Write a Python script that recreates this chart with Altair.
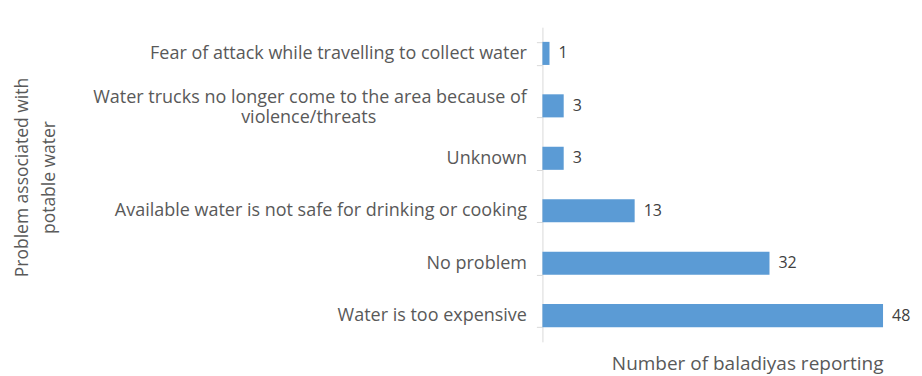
import altair as alt
import pandas as pd

categories = [
    "Fear of attack while travelling to collect water",
    "Water trucks no longer come to the area because of violence/threats",
    "Unknown",
    "Available water is not safe for drinking or cooking",
    "No problem",
    "Water is too expensive",
]
values = [1, 3, 3, 13, 32, 48]

df = pd.DataFrame({"cat": categories, "val": values})
FONT = "Open Sans"
GRAY = "#595959"
TWO_LINE = categories[1]

label_expr = (
    f"datum.value == '{TWO_LINE}' "
    "? 'Water trucks no longer come to the area because of' : datum.value"
)

y = alt.Y(
    "cat:N",
    sort=categories,
    scale=alt.Scale(paddingInner=0.56, paddingOuter=0.28),
    axis=alt.Axis(
        title=["Problem associated with", "potable water"],
        titleFontSize=17.5,
        titleFont=FONT,
        titleColor=GRAY,
        titleFontWeight="normal",
        titleLineHeight=27,
        titleX=-511,
        titleY=150,
        labelExpr=label_expr,
        labelFont=FONT,
        labelFontSize=18,
        labelColor=GRAY,
        labelLimit=600,
        labelPadding=10,
        labelOffset={"condition": {"test": f"datum.value == '{TWO_LINE}'", "value": -8}, "value": 0},
        tickBand="extent",
        tickSize=6,
        tickColor="#d9d9d9",
        domainColor="#d9d9d9",
        grid=False,
    ),
)

x = alt.X(
    "val:Q",
    scale=alt.Scale(domain=[0, 48], nice=False),
    axis=alt.Axis(
        title="Number of baladiyas reporting",
        titleFont=FONT,
        titleFontSize=19,
        titleColor=GRAY,
        titleFontWeight="normal",
        titleAnchor="end",
        titlePadding=13,
        labels=False,
        ticks=False,
        domain=False,
        grid=False,
    ),
)

bars = alt.Chart(df).mark_bar(color="#5b9bd5").encode(x=x, y=y)

text = alt.Chart(df).mark_text(
    align="left", baseline="middle", dx=9, font=FONT, fontSize=16, color="#404040"
).encode(x="val:Q", y=alt.Y("cat:N", sort=categories), text="val:Q")

extra = alt.Chart(pd.DataFrame({"cat": [TWO_LINE], "t": ["violence/threats"]})).mark_text(
    align="center", baseline="middle", dy=12, font=FONT, fontSize=18, color=GRAY
).encode(x=alt.value(-234), y=alt.Y("cat:N", sort=categories), text="t:N")

chart = (
    alt.layer(bars, text, extra)
    .properties(
        width=341,
        height=315,
        autosize=alt.AutoSizeParams(type="none"),
        padding={"left": 535, "top": 19, "right": 31, "bottom": 34},
    )
    .configure_view(stroke=None)
)

chart.save("out.html", embed_options={"renderer": "svg", "actions": False})
